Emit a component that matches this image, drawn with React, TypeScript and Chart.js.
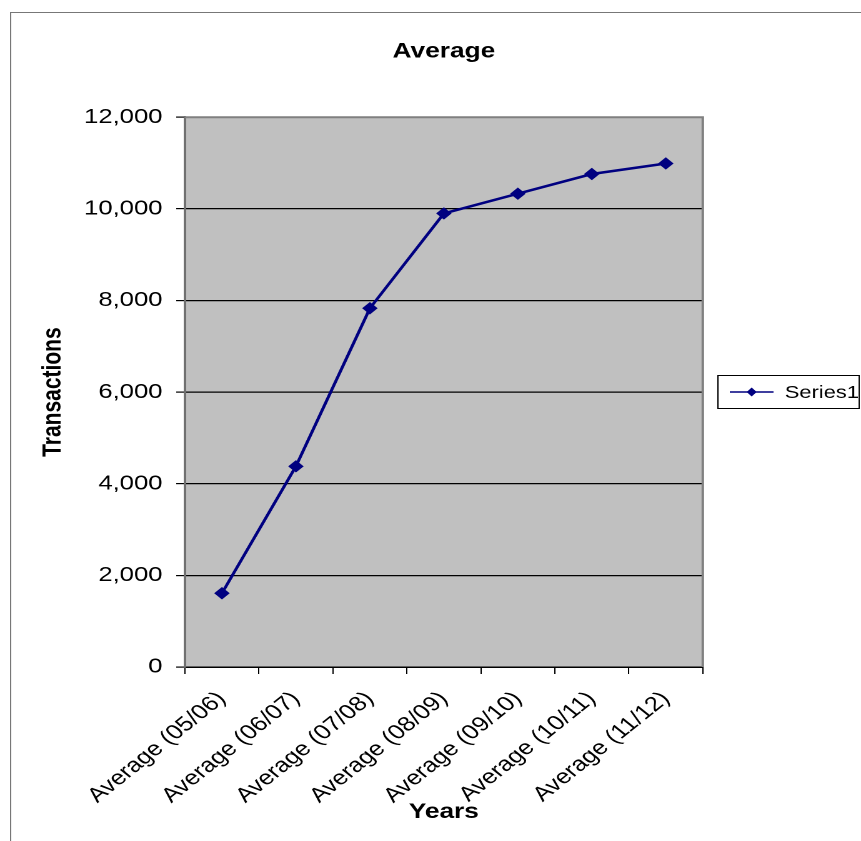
import { useEffect, useRef } from "react";
import { Chart, registerables } from "chart.js";

Chart.register(...registerables);

// Dane
const categories = [
  "Average (05/06)",
  "Average (06/07)",
  "Average (07/08)",
  "Average (08/09)",
  "Average (09/10)",
  "Average (10/11)",
  "Average (11/12)",
];
const series1 = [1610, 4380, 7830, 9900, 10330, 10760, 10990];
const yTicks = [0, 2000, 4000, 6000, 8000, 10000, 12000];

const seriesName = "Series1";
const chartTitle = "Average";
const xTitle = "Years";
const yTitle = "Transactions";

// the reference is stretched horizontally, so draw narrower and scale up
const LOGICAL_W = 689;
const H = 841;
const STRETCH = 861 / LOGICAL_W;
const FONT = "'Liberation Sans', Arial, sans-serif";
const NAVY = "#000080";

const decorPlugin = {
  id: "decor",
  beforeDraw(chart: Chart) {
    const { ctx, chartArea: a } = chart;
    ctx.save();
    ctx.fillStyle = "#ffffff";
    ctx.fillRect(0, 0, chart.width, chart.height);
    ctx.fillStyle = "#c0c0c0";
    ctx.fillRect(a.left, a.top, a.right - a.left, a.bottom - a.top);
    ctx.restore();
  },
  afterDraw(chart: Chart) {
    const { ctx, chartArea: a } = chart;
    ctx.save();
    // ramka calego wykresu
    ctx.strokeStyle = "#777777";
    ctx.lineWidth = 1;
    ctx.strokeRect(8.5, 12.5, 900, 900);

    // obramowanie obszaru wykresu (góra i prawa strona)
    ctx.strokeStyle = "#808080";
    ctx.lineWidth = 2;
    ctx.beginPath();
    ctx.moveTo(a.left, a.top);
    ctx.lineTo(a.right, a.top);
    ctx.lineTo(a.right, a.bottom);
    ctx.stroke();

    // legenda
    ctx.strokeStyle = "#000000";
    ctx.lineWidth = 1;
    ctx.strokeRect(574.5, 375.5, 113, 33);
    const ly = 392;
    ctx.strokeStyle = NAVY;
    ctx.lineWidth = 1.5;
    ctx.beginPath();
    ctx.moveTo(584, ly);
    ctx.lineTo(619, ly);
    ctx.stroke();
    ctx.fillStyle = NAVY;
    ctx.beginPath();
    ctx.moveTo(601.5, ly - 4.5);
    ctx.lineTo(605.5, ly);
    ctx.lineTo(601.5, ly + 4.5);
    ctx.lineTo(597.5, ly);
    ctx.closePath();
    ctx.fill();
    ctx.fillStyle = "#000000";
    ctx.font = `17.5px ${FONT}`;
    ctx.textBaseline = "middle";
    ctx.textAlign = "left";
    ctx.fillText(seriesName, 628, ly + 1);
    ctx.restore();
  },
};

export default function App() {
  const canvasRef = useRef<HTMLCanvasElement | null>(null);
  const chartInstance = useRef<Chart | null>(null);

  useEffect(() => {
    if (!canvasRef.current) return;
    if (chartInstance.current) chartInstance.current.destroy();

    chartInstance.current = new Chart(canvasRef.current, {
      type: "line",
      data: {
        labels: categories,
        datasets: [
          {
            label: seriesName,
            data: series1,
            borderColor: NAVY,
            backgroundColor: NAVY,
            borderWidth: 2.5,
            tension: 0,
            pointStyle: "rectRot",
            pointRadius: 5.5,
            pointBackgroundColor: NAVY,
            pointBorderColor: NAVY,
            pointBorderWidth: 1,
          },
        ],
      },
      options: {
        animation: false,
        responsive: true,
        maintainAspectRatio: false,
        devicePixelRatio: 2,
        layout: {
          padding: { left: 0, right: LOGICAL_W - 562.4, top: 0, bottom: 0 },
        },
        plugins: {
          legend: { display: false },
          tooltip: { enabled: false },
          title: {
            display: true,
            text: chartTitle,
            fullSize: false,
            color: "#000000",
            font: { family: FONT, size: 21, weight: "bold" },
            padding: { top: 39, bottom: 53 },
          },
        },
        scales: {
          x: {
            offset: true,
            afterFit: (scale: any) => {
              scale.height = H - 667;
            },
            grid: {
              offset: true,
              drawOnChartArea: false,
              drawTicks: true,
              tickLength: 7,
              color: "#000000",
            },
            border: { color: "#000000", width: 1.5 },
            ticks: {
              autoSkip: false,
              minRotation: 45,
              maxRotation: 45,
              padding: 13,
              color: "#000000",
              font: { family: FONT, size: 20.5 },
            },
            title: {
              display: true,
              text: xTitle,
              color: "#000000",
              font: { family: FONT, size: 21, weight: "bold" },
              padding: { top: 0, bottom: 16 },
            },
          },
          y: {
            min: 0,
            max: 12000,
            afterFit: (scale: any) => {
              scale.width = 148;
            },
            afterBuildTicks: (scale: any) => {
              scale.ticks = yTicks.map((v) => ({ value: v }));
            },
            grid: {
              color: (c: any) =>
                c.tick && c.tick.value === 12000 ? "#808080" : "#000000",
              tickColor: "#000000",
              tickLength: 7,
              lineWidth: 1.2,
            },
            border: { color: "#707070", width: 2 },
            ticks: {
              padding: 11,
              color: "#000000",
              font: { family: FONT, size: 20.5 },
              callback: (v: any) => Number(v).toLocaleString("en-US"),
            },
            title: {
              display: true,
              text: yTitle,
              color: "#000000",
              font: { family: FONT, size: 21, weight: "bold" },
              padding: { top: 30, bottom: 0 },
            },
          },
        },
      },
      plugins: [decorPlugin],
    });

    return () => {
      if (chartInstance.current) {
        chartInstance.current.destroy();
        chartInstance.current = null;
      }
    };
  }, []);

  return (
    <div
      style={{
        position: "absolute",
        left: 0,
        top: 0,
        width: LOGICAL_W,
        height: H,
        transform: `scaleX(${STRETCH})`,
        transformOrigin: "0 0",
      }}
    >
      <canvas ref={canvasRef} />
    </div>
  );
}
